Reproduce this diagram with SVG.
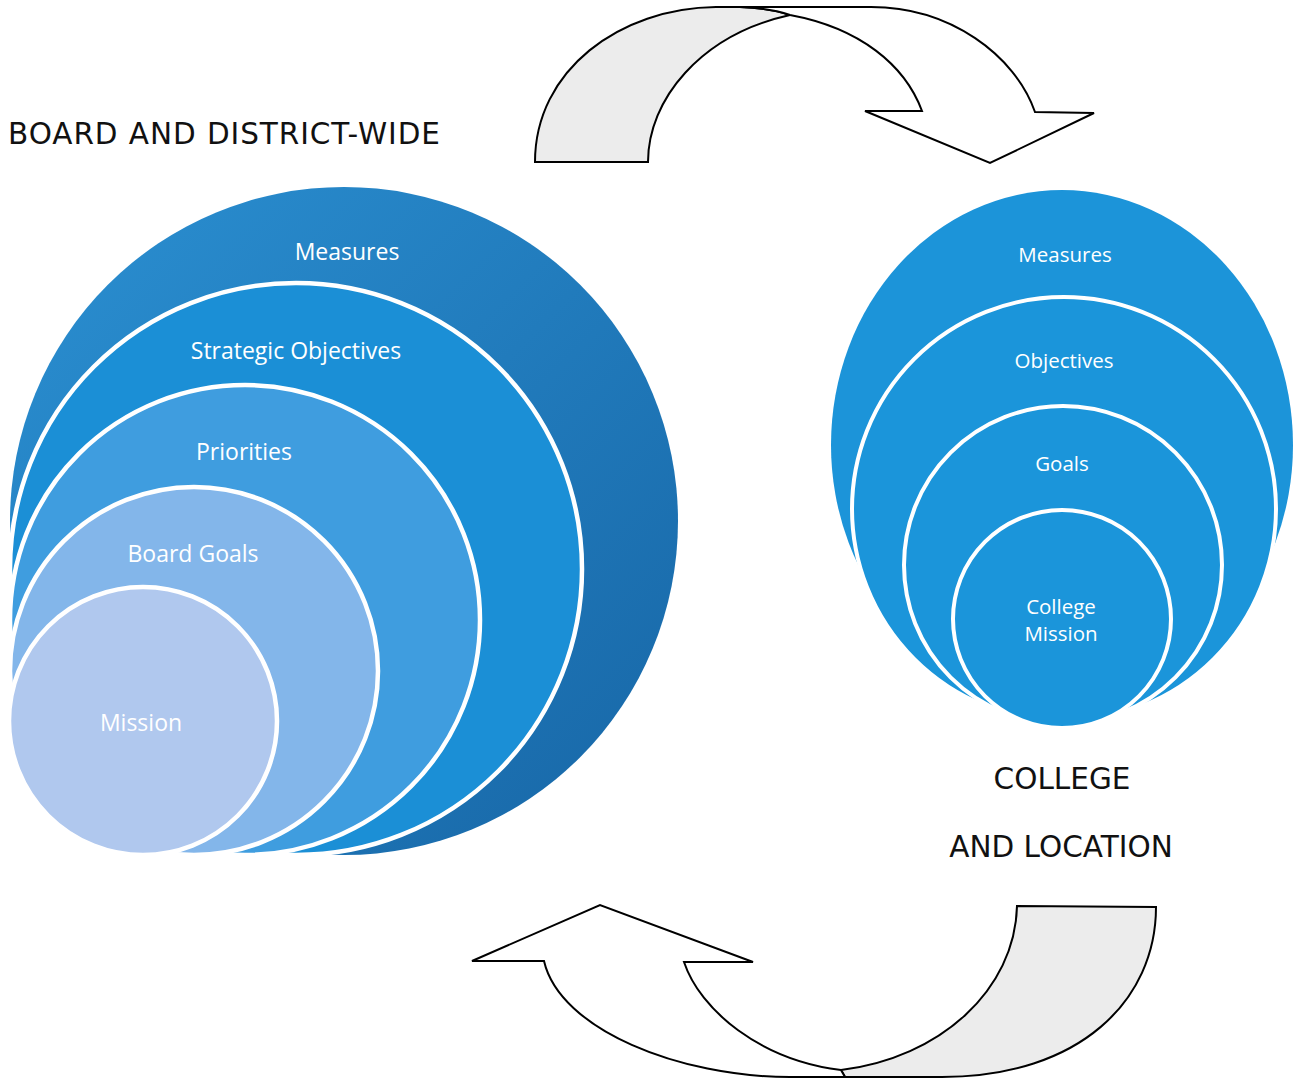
<svg xmlns="http://www.w3.org/2000/svg" width="1297" height="1080" viewBox="0 0 1297 1080">
<defs>
<linearGradient id="gMeas" x1="0" y1="0" x2="1" y2="1">
<stop offset="0" stop-color="#2b90d2"/>
<stop offset="1" stop-color="#1766a6"/>
</linearGradient>
<style>
.ring{stroke:#ffffff;stroke-width:4.5}
.rring{stroke:#ffffff;stroke-width:4}
.lbl{font-family:"Open Sans","Liberation Sans",sans-serif;fill:#ffffff;text-anchor:middle;dominant-baseline:central}
.big{font-size:23px}
.sm{font-size:20.5px}
.cap{font-family:"DejaVu Sans","Liberation Sans",sans-serif;font-size:29.5px;fill:#111111;dominant-baseline:central}
.arrow{stroke:#000000;stroke-width:2;stroke-linejoin:miter}
.back{fill:#ececec}
.front{fill:#ffffff}
</style>
</defs>
<rect width="1297" height="1080" fill="#ffffff"/>

<text class="cap" x="8" y="134" textLength="432" lengthAdjust="spacing">BOARD AND DISTRICT-WIDE</text>
<text class="cap" x="1062" y="779" text-anchor="middle">COLLEGE</text>
<text class="cap" x="1061" y="847" text-anchor="middle">AND LOCATION</text>

<g id="left-measures"><circle cx="344" cy="521" r="334" fill="url(#gMeas)"/><text class="lbl big" x="347" y="251">Measures</text></g>
<g id="left-strategic"><circle class="ring" cx="296" cy="569" r="286" fill="#1b8fd6"/><text class="lbl big" x="296" y="350">Strategic Objectives</text></g>
<g id="left-priorities"><circle class="ring" cx="245" cy="620" r="235" fill="#3f9ddf"/><text class="lbl big" x="244" y="451">Priorities</text></g>
<g id="left-goals"><circle class="ring" cx="194" cy="671" r="184" fill="#83b6ea"/><text class="lbl big" x="193" y="553">Board Goals</text></g>
<g id="left-mission"><circle class="ring" cx="143" cy="721" r="134" fill="#b0c8ee"/><text class="lbl big" x="141" y="722">Mission</text></g>

<g id="right-measures"><ellipse cx="1062" cy="445" rx="231" ry="255" fill="#1c94d9"/><text class="lbl sm" x="1065" y="254">Measures</text></g>
<g id="right-objectives"><circle class="rring" cx="1064" cy="509" r="212" fill="#1b95da"/><text class="lbl sm" x="1064" y="360">Objectives</text></g>
<g id="right-goals"><circle class="rring" cx="1063" cy="565" r="159" fill="#1b95da"/><text class="lbl sm" x="1062" y="463">Goals</text></g>
<g id="right-mission"><circle class="rring" cx="1062" cy="619" r="109" fill="#1b95da"/><text class="lbl sm" x="1061" y="606">College</text><text class="lbl sm" x="1061" y="633">Mission</text></g>

<g id="connectors">
<g id="top-arrow">
<path class="arrow back" d="M535,162 C535,70 620,8 716,7 L740,7 Q770,8 790,15 C700,35 648,100 648,162 Z"/>
<path class="arrow front" d="M740,7 L871,7 C950,7 1015,55 1035,112 L1094,113 L990,163 L865,111 L922,111 C905,65 860,28 790,15 Q770,8 740,7 Z"/>
</g>
<g id="bottom-arrow">
<path class="arrow back" d="M1017,906 L1156,907 C1156,1000 1080,1077 942,1077 L845,1077 L841,1070 C940,1058 1015,990 1017,906 Z"/>
<path class="arrow front" d="M544,961 L472,961 L600,905 L753,962 L684,962 C700,1010 760,1060 841,1070 L845,1077 L790,1077 C680,1077 560,1030 544,961 Z"/>
</g>
</g>
</svg>
